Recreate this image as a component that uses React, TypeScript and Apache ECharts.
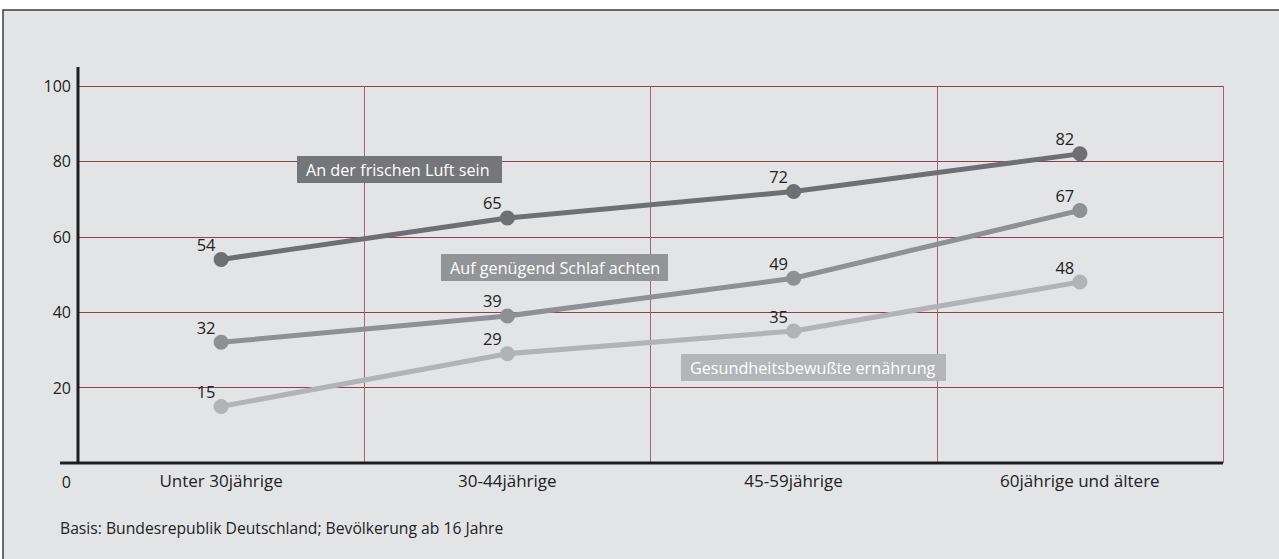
import React, { useEffect, useRef } from "react";
import * as echarts from "echarts";

const categories = ["Unter 30jährige", "30-44jährige", "45-59jährige", "60jährige und ältere"];
const seriesNames = ["An der frischen Luft sein", "Auf genügend Schlaf achten", "Gesundheitsbewußte ernährung"];
const frischeLuft = [54, 65, 72, 82];
const schlaf = [32, 39, 49, 67];
const ernaehrung = [15, 29, 35, 48];
const yTicks = [0, 20, 40, 60, 80, 100];
const footnote = "Basis: Bundesrepublik Deutschland; Bevölkerung ab 16 Jahre";

const FONT = "'Open Sans', 'Noto Sans', sans-serif";
const colors = ["#6e6f73", "#8f9094", "#b2b3b6"];
const boxColors = ["#757679", "#939497", "#b4b5b8"];

export default function App() {
  const ref = useRef<HTMLDivElement>(null);
  useEffect(() => {
    if (!ref.current) return;
    const chart = echarts.init(ref.current, null, { renderer: "svg" });
    const values = [frischeLuft, schlaf, ernaehrung];
    const boxes = [
      { x: 297, y: 156, w: 205, h: 27 },
      { x: 441, y: 254, w: 227, h: 27 },
      { x: 681, y: 354, w: 265, h: 27 },
    ];
    chart.setOption({
      animation: false,
      backgroundColor: "#ffffff",
      grid: { left: 78, right: 56, top: 86, bottom: 96 },
      xAxis: {
        type: "category",
        data: categories,
        boundaryGap: true,
        axisLine: { show: false },
        axisTick: { show: false },
        axisLabel: { color: "#222", fontSize: 17, fontFamily: FONT, margin: 9 },
        splitLine: { show: true, lineStyle: { color: "#a2646d", width: 1 } },
      },
      yAxis: {
        type: "value",
        min: 0,
        max: 100,
        interval: 20,
        axisLine: { show: false },
        axisTick: { show: false },
        axisLabel: {
          color: "#222",
          fontSize: 16,
          fontFamily: FONT,
          margin: 7,
          formatter: (v: number) => (v === yTicks[0] ? "" : String(v)),
        },
        splitLine: { show: true, lineStyle: { color: "#8e3f4a", width: 1.2 } },
      },
      series: values.map((d, i) => ({
        type: "line",
        name: seriesNames[i],
        data: d,
        z: 10 - i,
        symbol: "circle",
        symbolSize: 15,
        lineStyle: { color: colors[i], width: 5 },
        itemStyle: { color: colors[i] },
        label: {
          show: true,
          position: "top",
          offset: [-15, 6],
          color: "#222",
          fontSize: 16.5,
          fontFamily: FONT,
        },
      })),
      graphic: [
        {
          type: "rect",
          z: -10,
          silent: true,
          shape: { x: 3, y: 10, width: 1290, height: 560 },
          style: { fill: "#e3e4e6", stroke: "#3c3c3e", lineWidth: 1.5 },
        },
        {
          type: "line",
          z: 50,
          shape: { x1: 78, y1: 67, x2: 78, y2: 464 },
          style: { stroke: "#1e1e1e", lineWidth: 3 },
        },
        {
          type: "line",
          z: 50,
          shape: { x1: 60, y1: 463, x2: 1223, y2: 463 },
          style: { stroke: "#1e1e1e", lineWidth: 3 },
        },
        {
          type: "text",
          z: 50,
          style: {
            text: String(yTicks[0]),
            x: 71,
            y: 482,
            align: "right",
            verticalAlign: "middle",
            fill: "#222",
            fontSize: 16,
            fontFamily: FONT,
          },
        },
        {
          type: "text",
          z: 50,
          style: {
            text: footnote,
            x: 60,
            y: 528,
            align: "left",
            verticalAlign: "middle",
            fill: "#222",
            fontSize: 15.7,
            fontFamily: FONT,
          },
        },
        ...boxes.flatMap((b, i) => [
          {
            type: "rect",
            z: 60,
            shape: { x: b.x, y: b.y, width: b.w, height: b.h },
            style: { fill: boxColors[i] },
          },
          {
            type: "text",
            z: 61,
            style: {
              text: seriesNames[i],
              x: b.x + 9,
              y: b.y + b.h / 2,
              align: "left",
              verticalAlign: "middle",
              fill: "#ffffff",
              fontSize: 16.2,
              fontFamily: FONT,
            },
          },
        ]),
      ],
    });
    return () => chart.dispose();
  }, []);
  return (
    <div
      ref={ref}
      style={{ position: "fixed", left: 0, top: 0, width: 1279, height: 559 }}
    />
  );
}
